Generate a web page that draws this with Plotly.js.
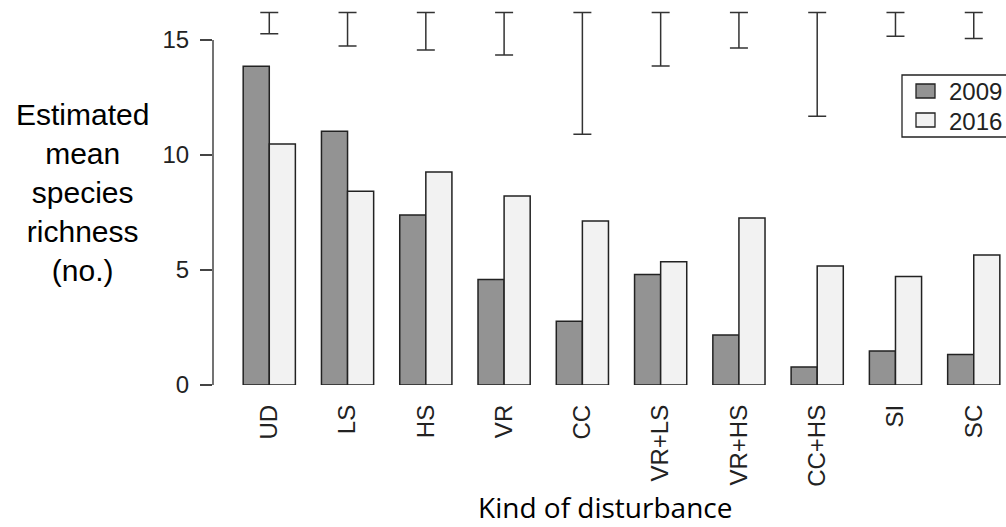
<!DOCTYPE html>
<html>
<head>
<meta charset="utf-8">
<script src="https://cdn.plot.ly/plotly-3.0.1.min.js"></script>
<style>html,body{margin:0;padding:0;background:#fff;}#chart{width:1006px;height:527px;}</style>
</head>
<body>
<div id="chart"></div>
<script>
// ---- data ----
const categories = ["UD", "LS", "HS", "VR", "CC", "VR+LS", "VR+HS", "CC+HS", "SI", "SC"];
const richness2009 = [13.86, 11.03, 7.39, 4.59, 2.77, 4.80, 2.17, 0.78, 1.48, 1.33];
const richness2016 = [10.48, 8.42, 9.26, 8.22, 7.13, 5.36, 7.26, 5.17, 4.72, 5.65];
const ciLower = [15.27, 14.74, 14.57, 14.35, 10.90, 13.87, 14.65, 11.68, 15.16, 15.07];
const ciUpper = [16.2, 16.2, 16.2, 16.2, 16.2, 16.2, 16.2, 16.2, 16.2, 16.2];
const yTicks = [0, 5, 10, 15];
const seriesNames = ["2009", "2016"];
const seriesColors = ["#939393", "#f2f2f2"];

const narrow = "'Liberation Sans Narrow', 'Arial Narrow', 'Liberation Sans', Arial, sans-serif";
const outline = {color: "#222", width: 1.5};

const traces = [
  {type: "bar", name: seriesNames[0], x: categories, y: richness2009,
   marker: {color: seriesColors[0], line: outline}},
  {type: "bar", name: seriesNames[1], x: categories, y: richness2016,
   marker: {color: seriesColors[1], line: outline}},
  {type: "scatter", mode: "markers", x: categories, y: ciUpper,
   marker: {size: 0.1, color: "rgba(0,0,0,0)"}, showlegend: false, cliponaxis: false,
   error_y: {type: "data", symmetric: false,
             array: ciUpper.map(() => 0),
             arrayminus: ciUpper.map((u, i) => u - ciLower[i]),
             color: "#333", thickness: 1.5, width: 9}}
];

// plot area geometry (pixels) used to place the hand-built legend in paper units
const L = 213, W = 793, H = 385;
const px = v => (v - L) / W;
const py = v => 1 - v / H;

const shapes = [
  {type: "line", xref: "paper", yref: "y", x0: 0, x1: 0,
   y0: Math.min(...yTicks), y1: Math.max(...yTicks),
   line: {color: "#444", width: 1.5}},
  // legend frame
  {type: "rect", xref: "paper", yref: "paper", x0: px(902), x1: px(1012), y0: py(137), y1: py(75),
   fillcolor: "#fff", line: {color: "#222", width: 1.3}, layer: "above"}
];
const annotations = [
  {xref: "paper", yref: "paper", x: -0.164, y: 0.499, xanchor: "center", yanchor: "middle",
   showarrow: false, align: "center",
   text: "Estimated<br>mean<br>species<br>richness<br>(no.)",
   font: {family: "'Liberation Sans', Arial, sans-serif", size: 30, color: "#000"}},
  {xref: "paper", yref: "paper", x: 0.494, y: -0.317, xanchor: "center", yanchor: "middle",
   showarrow: false, text: "Kind of disturbance",
   font: {family: "'Open Sans', sans-serif", size: 28, color: "#000"}}
];
const legendRows = [91, 120];
seriesNames.forEach((name, i) => {
  const cy = legendRows[i];
  shapes.push({type: "rect", xref: "paper", yref: "paper",
               x0: px(916), x1: px(935), y0: py(cy + 7), y1: py(cy - 7),
               fillcolor: seriesColors[i], line: {color: "#222", width: 1.3}, layer: "above"});
  annotations.push({xref: "paper", yref: "paper", x: px(947), y: py(cy + 1),
                    xanchor: "left", yanchor: "middle", showarrow: false, text: name,
                    font: {family: narrow, size: 24, color: "#222"}});
});

const layout = {
  width: 1006, height: 527,
  margin: {l: 213, r: 0, t: 0, b: 142},
  paper_bgcolor: "#fff", plot_bgcolor: "#fff",
  barmode: "group", bargap: 1/3, bargroupgap: 0,
  showlegend: false,
  xaxis: {type: "category", range: [-0.719, 9.412], showline: false, showgrid: false,
          zeroline: false, ticks: "", tickangle: -90, ticklabelstandoff: 14,
          tickfont: {family: narrow, size: 24, color: "#222"}},
  yaxis: {range: [0, 16.74], showline: false, showgrid: false, zeroline: false,
          tickvals: yTicks, ticktext: yTicks.map(String), ticks: "outside", ticklen: 12,
          tickwidth: 1.5, tickcolor: "#444", ticklabelstandoff: 6,
          tickfont: {family: narrow, size: 24, color: "#222"}},
  shapes: shapes,
  annotations: annotations,
  hovermode: false
};

Plotly.newPlot("chart", traces, layout, {displayModeBar: false, staticPlot: true});
</script>
</body>
</html>
